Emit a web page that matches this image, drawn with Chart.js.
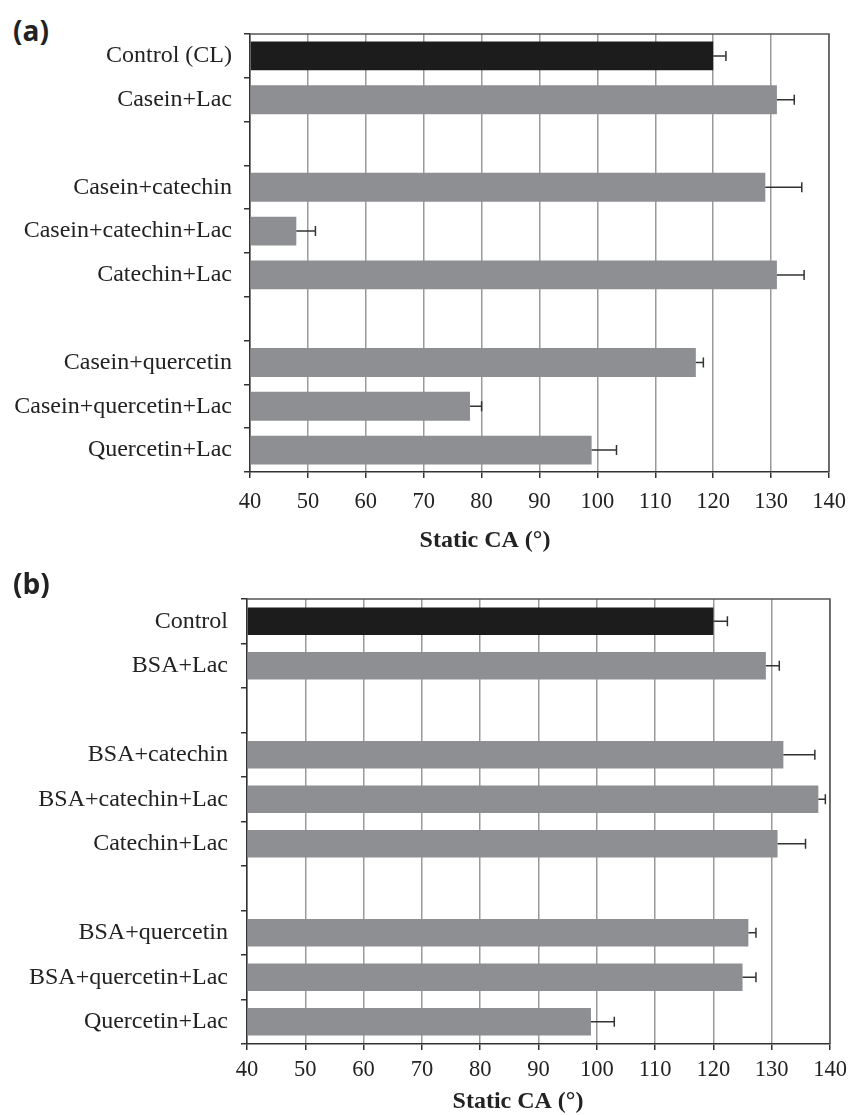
<!DOCTYPE html>
<html>
<head>
<meta charset="utf-8">
<script src="https://cdn.jsdelivr.net/npm/chart.js@4.4.1/dist/chart.umd.min.js"></script>
<style>
  body { margin: 0; background: #fff; }
  #wrap { position: relative; width: 848px; height: 1115px; }
  canvas { position: absolute; left: 0; }
  .panel { position: absolute; left: 13px; font: bold 28px "Open Sans", sans-serif; line-height: 1; color: #222; }
</style>
</head>
<body>
<div id="wrap">
  <div class="panel" style="top:16px">(a)</div>
  <canvas id="chartA" width="848" height="565" style="top:0"></canvas>
  <div class="panel" style="top:569px">(b)</div>
  <canvas id="chartB" width="848" height="550" style="top:565px"></canvas>
</div>
<script>
// panel (a) - casein
const labelsA = ['Control (CL)', 'Casein+Lac', '', 'Casein+catechin', 'Casein+catechin+Lac', 'Catechin+Lac', '', 'Casein+quercetin', 'Casein+quercetin+Lac', 'Quercetin+Lac'];
const valuesA = [120, 131, null, 129, 48, 131, null, 117, 78, 99];
const errorsA = [2.2, 3, null, 6.3, 3.3, 4.7, null, 1.3, 2, 4.3];

// panel (b) - BSA
const labelsB = ['Control', 'BSA+Lac', '', 'BSA+catechin', 'BSA+catechin+Lac', 'Catechin+Lac', '', 'BSA+quercetin', 'BSA+quercetin+Lac', 'Quercetin+Lac'];
const valuesB = [120, 129, null, 132, 138, 131, null, 126, 125, 99];
const errorsB = [2.4, 2.3, null, 5.4, 1.2, 4.8, null, 1.3, 2.3, 4];

const xTicks = [40, 50, 60, 70, 80, 90, 100, 110, 120, 130, 140];
const axisTitle = 'Static CA (°)';

const serif = '"Liberation Serif", "Times New Roman", serif';

// top and right border of the plot box
const frame = {
  id: 'frame',
  beforeDatasetsDraw(chart) {
    const {ctx, chartArea: a} = chart;
    ctx.save();
    ctx.strokeStyle = '#555';
    ctx.lineWidth = 1.5;
    ctx.beginPath();
    ctx.moveTo(a.left, a.top);
    ctx.lineTo(a.right, a.top);
    ctx.lineTo(a.right, a.bottom);
    ctx.stroke();
    ctx.restore();
  }
};

// one-sided error bars
const errorBars = {
  id: 'errorBars',
  afterDatasetsDraw(chart, args, opts) {
    const {ctx, scales: {x, y}} = chart;
    const vals = chart.data.datasets[0].data;
    ctx.save();
    ctx.strokeStyle = '#333';
    ctx.lineWidth = 1.5;
    vals.forEach((v, i) => {
      if (v == null) return;
      const yc = y.getPixelForValue(i);
      const x0 = x.getPixelForValue(v);
      const x1 = x.getPixelForValue(v + opts.errors[i]);
      ctx.beginPath();
      ctx.moveTo(x0, yc);
      ctx.lineTo(x1, yc);
      ctx.moveTo(x1, yc - 5);
      ctx.lineTo(x1, yc + 5);
      ctx.stroke();
    });
    ctx.restore();
  }
};

// x axis title, sits a bit left of the plot centre like the original
const xTitle = {
  id: 'xTitle',
  afterDraw(chart, args, opts) {
    const {ctx, chartArea: a} = chart;
    ctx.save();
    ctx.fillStyle = '#222';
    ctx.font = 'bold 24px ' + serif;
    ctx.textAlign = 'center';
    ctx.textBaseline = 'middle';
    ctx.fillText(axisTitle, a.left + opts.dx, a.bottom + opts.dy);
    ctx.restore();
  }
};

function makeChart(id, labels, values, errors, lay) {
  new Chart(document.getElementById(id), {
    type: 'bar',
    data: {
      labels: labels,
      datasets: [{
        data: values,
        base: 40,
        backgroundColor: values.map((v, i) => i === 0 ? '#1c1c1c' : '#8e8f93'),
        barPercentage: lay.bar,
        categoryPercentage: 1
      }]
    },
    options: {
      indexAxis: 'y',
      responsive: false,
      animation: false,
      layout: { padding: lay.padding },
      scales: {
        x: {
          min: 40, max: 140,
          afterBuildTicks: s => { s.ticks = xTicks.map(v => ({value: v})); },
          afterFit: s => { s.height = lay.xHeight; s.paddingLeft = 0; s.paddingRight = 0; },
          grid: { color: '#9a9a9a', lineWidth: 1.5, tickColor: '#333', tickLength: 6 },
          border: { color: '#333', width: 1.5 },
          ticks: { color: '#222', font: { family: serif, size: 22.5 }, padding: lay.xPad, maxRotation: 0 }
        },
        y: {
          afterFit: s => { s.width = lay.yWidth; s.paddingTop = 0; s.paddingBottom = 0; },
          grid: { offset: true, drawOnChartArea: false, color: '#333', lineWidth: 1.5, tickLength: 6 },
          border: { color: '#333', width: 1.5 },
          ticks: { color: '#222', font: { family: serif, size: 24 }, padding: lay.yPad, autoSkip: false }
        }
      },
      plugins: {
        legend: { display: false },
        tooltip: { enabled: false },
        errorBars: { errors: errors },
        xTitle: lay.title
      }
    },
    plugins: [frame, errorBars, xTitle]
  });
}

makeChart('chartA', labelsA, valuesA, errorsA, {
  padding: { left: 0, right: 19, top: 34, bottom: 51 },
  yWidth: 250, xHeight: 42, xPad: 11, yPad: 12, bar: 0.66,
  title: { dx: 235, dy: 69 }
});

makeChart('chartB', labelsB, valuesB, errorsB, {
  padding: { left: 0, right: 18, top: 34, bottom: 35 },
  yWidth: 247, xHeight: 36, xPad: 7, yPad: 13, bar: 0.62,
  title: { dx: 271, dy: 58 }
});
</script>
</body>
</html>
